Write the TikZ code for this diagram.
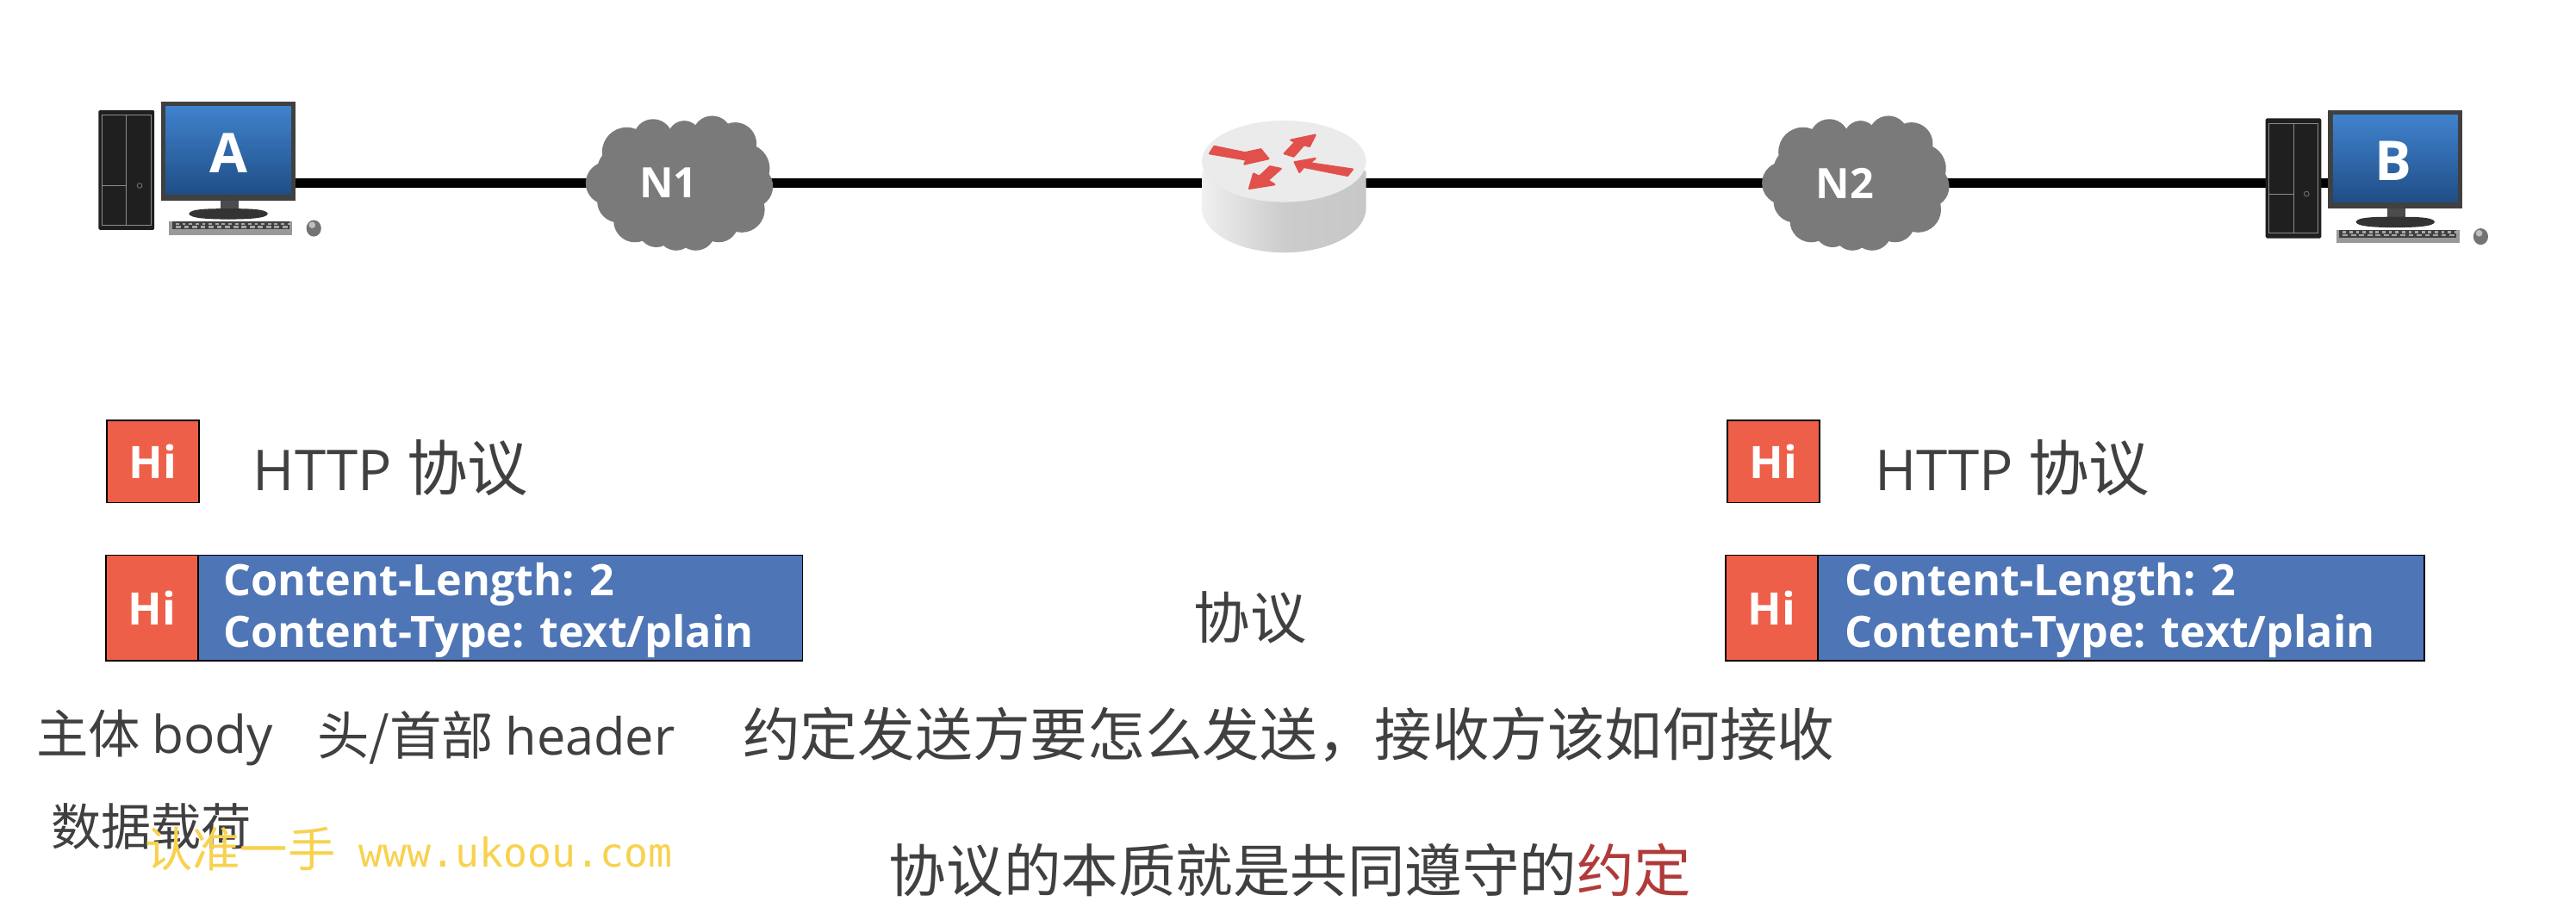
\documentclass[tikz,border=0pt]{standalone}
\usepackage{fontspec}
\setmainfont{Open Sans}
\newfontfamily\cjk{Noto Sans CJK SC}
\newfontfamily\wmk{DejaVu Sans Mono}
\usetikzlibrary{shadings}
\definecolor{txt}{HTML}{404040}
\definecolor{hired}{HTML}{EE5F49}
\definecolor{pblue}{HTML}{4E75B5}
\definecolor{cloudc}{HTML}{7A7A7A}
\definecolor{arrowr}{HTML}{E2504C}
\definecolor{wm}{HTML}{F8D24E}
\definecolor{keyw}{HTML}{B03A3A}
\tikzset{
  wire/.style={line width=6*0.04cm,black},
  hibox/.style={draw=black,line width=1.1pt,fill=hired,text=white,minimum width=56*0.04cm,font=\fontsize{31}{31}\selectfont\bfseries,inner sep=0pt},
  hdrbox/.style={draw=black,line width=1.1pt,fill=pblue,text=white,anchor=west,inner sep=0pt},
  hdrtxt/.style={text=white,anchor=west,font=\fontsize{30}{30}\selectfont\bfseries,inner sep=0pt},
  label/.style={text=txt,anchor=west,inner sep=0pt},
  httpl/.style={label,font=\fontsize{39}{39}\selectfont},
  big/.style={label,font=\cjk\fontsize{36}{36}\selectfont},
  cloudlabel/.style={text=white,font=\fontsize{29}{29}\selectfont\bfseries,minimum width=117*0.04cm,minimum height=83*0.04cm,inner sep=0pt},
  pclabel/.style={text=white,font=\fontsize{38}{38}\selectfont\bfseries,inner sep=0pt},
}
\newcommand{\cloudshape}[2]{%
  \begin{scope}[shift={(#1,#2)}]
    \fill[cloudc] (0,0) ellipse (46 and 31);
    \foreach \cx/\cy/\r in {-30/-19/15,-14/-27/12,5/-28/10,22/-29/12,36/-24/13,42/-9/15,46/2/13,40/16/14,26/24/12,12/29/12,0/30/11,-12/28/11,-25/23/13,-35/11/13,-42/0/13,-34/-8/14}
      \fill[cloudc] (\cx,\cy) circle (\r);
  \end{scope}}
\newcommand{\pcshape}[2]{%
  \begin{scope}[shift={(#1,#2)}]
    % tower (origin = tower top-left)
    \fill[black!88,rounded corners=1] (0,0) rectangle (34,73);
    \draw[black!45,line width=0.6pt] (2,3) rectangle (32,70);
    \draw[black!45,line width=0.6pt] (17,3) -- (17,70) (2,46) -- (17,46);
    \draw[black!55,line width=0.5pt] (25,46) circle (1.5);
    % monitor
    \fill[black!70] (74,55) rectangle (85,62);
    \fill[black!80] (55,63) .. controls (56,60) and (68,60) .. (79,60) .. controls (90,60) and (102,60) .. (103,63) .. controls (103,66) and (90,66.5) .. (79,66.5) .. controls (68,66.5) and (55,66) .. (55,63) -- cycle;
    \fill[black!75] (38,-5) rectangle (120,55);
    \shade[top color={rgb,255:red,64;green,130;blue,205},bottom color={rgb,255:red,31;green,78;blue,134}] (41,-2) rectangle (117,51);
    % keyboard and mouse
    \fill[black!40] (43,68) rectangle (118,76);
    \fill[black!75] (45,68) rectangle (116,72.5);
    \foreach \k in {47,51,...,115} \fill[black!35] (\k,68.6) rectangle +(2,1.4);
    \foreach \k in {47,52,...,115} \fill[black!35] (\k,70.6) rectangle +(3,1.2);
    \fill[black!55] (131,72) ellipse (4.5 and 5);
    \fill[black!25] (130,70) ellipse (2 and 2);
  \end{scope}}
\begin{document}
\begin{tikzpicture}[x=0.04cm,y=-0.04cm]
\useasboundingbox (0,0) rectangle (1568,560);
\fill[white] (0,0) rectangle (1568,560);

% invisible anchors for the connectors
\coordinate (portA) at (178,111.5);
\coordinate (portB) at (1420,111.5);
\node[cloudlabel] (N1) at (408,111.5) {};
\node[minimum width=100*0.04cm,minimum height=10pt,inner sep=0pt] (R) at (781.5,111.5) {};
\node[cloudlabel] (N2) at (1124,111.5) {};

\draw[wire] (portA) -- (N1.center);
\draw[wire] (N1.center) -- (R.center);
\draw[wire] (R.center) -- (N2.center);
\draw[wire] (N2.center) -- (portB);

% computers
\pcshape{60}{67}
\pcshape{1379}{72}
\node[pclabel] (A) at (139,93) {A};
\node[pclabel] (B) at (1457,98) {B};

% clouds
\cloudshape{411.5}{111.5}
\cloudshape{1127.5}{111.5}
\node[text=white,font=\fontsize{29}{29}\selectfont\bfseries] (N1t) at (407,111.5) {N1};
\node[text=white,font=\fontsize{29}{29}\selectfont\bfseries] (N2t) at (1123,111.5) {N2};

% router
\begin{scope}[shift={(708,62.9)},x=0.00699cm,y=-0.00699cm]
  \shade[left color=black!6,right color=black!22,middle color=black!20]
    (135,235) -- (135,365) arc[start angle=180,end angle=360,x radius=286,y radius=-155] -- (707,235) -- cycle;
  \fill[black!8] (421,202) ellipse (286 and 142);
  \begin{scope}[fill=arrowr,draw=arrowr,line width=1.3pt,line join=round]
  \filldraw (178,150) -- (285,172) -- (340,160) -- (367,193) -- (283,212) -- (290,197) -- (162,175) -- cycle;
  \filldraw (530,110) -- (445,128) -- (460,135) -- (422,175) -- (455,185) -- (490,145) -- (510,150) -- cycle;
  \filldraw (458,205) -- (475,240) -- (490,222) -- (642,252) -- (660,230) -- (510,208) -- (530,192) -- cycle;
  \filldraw (300,297) -- (388,283) -- (365,268) -- (410,228) -- (372,220) -- (335,255) -- (315,245) -- cycle;
  \end{scope}
\end{scope}

% Hi + protocol label
\node[hibox,minimum height=50*0.04cm] (hiL) at (93,281) {Hi};
\node[hibox,minimum height=50*0.04cm] (hiR) at (1079.5,281) {Hi};
\node[httpl] (httpL) at (154,285) {HTTP {\cjk\fontsize{42}{42}\selectfont 协议}};
\node[httpl] (httpR) at (1141,285) {HTTP {\cjk\fontsize{42}{42}\selectfont 协议}};

% packets
\node[hdrbox,minimum width=368*0.04cm,minimum height=64*0.04cm] (hdrL) at (120,370) {};
\node[hibox,minimum height=64*0.04cm] (hipL) at (92.5,370) {Hi};
\node[hdrtxt] (cl1) at (136,356) {Content-Length: 2};
\node[hdrtxt] (ct1) at (136,387) {Content-Type: text/plain};
\node[hdrbox,minimum width=369*0.04cm,minimum height=64*0.04cm] (hdrR) at (1106,370) {};
\node[hibox,minimum height=64*0.04cm] (hipR) at (1078.5,370) {Hi};
\node[hdrtxt] (cl2) at (1123,356) {Content-Length: 2};
\node[hdrtxt] (ct2) at (1123,387) {Content-Type: text/plain};

% texts
\node[label,font=\cjk\fontsize{39}{39}\selectfont,anchor=center] (xy) at (761,376) {协议};
\node[big] (body) at (22,449) {主体 {\rmfamily body}};
\node[big] (head) at (193,449) {头/首部 {\rmfamily\fontsize{35.5}{36}\selectfont header}};
\node[big,font=\cjk\fontsize{39.8}{40}\selectfont] (rule) at (452,447) {约定发送方要怎么发送，接收方该如何接收};
\node[big,font=\cjk\fontsize{34.7}{35}\selectfont] (pay) at (31,503) {数据载荷};
\node[text=wm,anchor=west,inner sep=0pt,font=\cjk\fontsize{33}{33}\selectfont] (mark) at (88,517) {认准一手\hspace{0.5em}{\wmk\fontsize{27.7}{28}\selectfont www.ukoou.com}};
\node[label,font=\cjk\fontsize{39.7}{40}\selectfont] (essence) at (541,530) {协议的本质就是共同遵守的\textcolor{keyw}{约定}};
\end{tikzpicture}
\end{document}
